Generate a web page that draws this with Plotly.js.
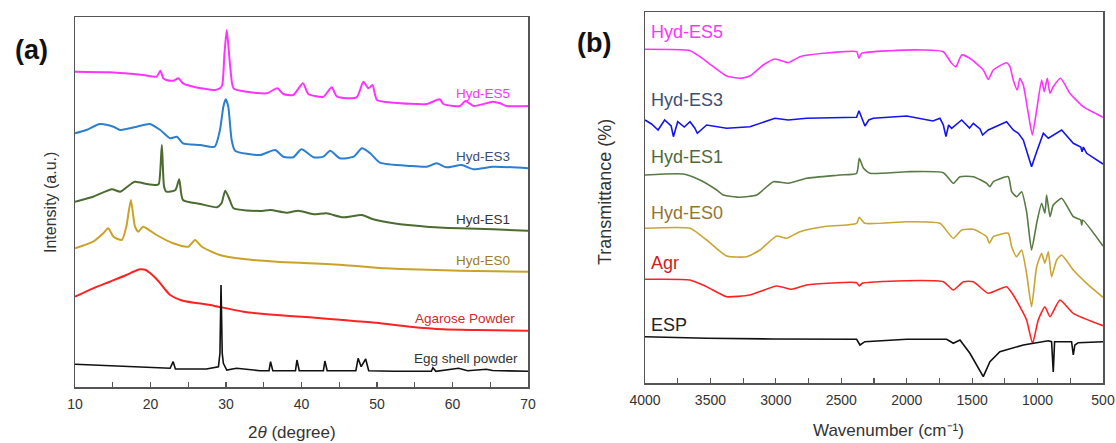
<!DOCTYPE html>
<html>
<head>
<meta charset="utf-8">
<script src="https://cdn.plot.ly/plotly-3.0.1.min.js"></script>
<style>html,body{margin:0;padding:0;background:#fff;}#chart{width:1116px;height:443px;}</style>
</head>
<body>
<div id="chart"></div>
<script>
// ---------- Panel (a): XRD, 2theta (degree) vs intensity (a.u.) ----------
const es5_x = [10,14.6,19.0,20.8,21.3,21.7,22.1,23.0,23.7,24.3,25.7,28.5,29.2,29.5,29.8,30.1,30.4,30.6,31.0,32.7,35.4,36.8,37.6,38.9,40.2,40.9,42.9,44.0,44.7,47.3,48.2,48.85,49.4,50.0,52.2,56.6,58.3,58.8,61.0,61.7,62.8,65.4,66.3,67.2,70];
const es5_y = [315.3,314.7,312,310.3,316.3,308.7,307,306.3,308.7,303.7,300.3,297,298.7,302,333.7,357,333.7,317,298.7,295.3,293.7,298.7,293,292,303.7,293,290.3,299.7,290.3,289.7,305.3,298.7,302,287,284.3,283,287.7,283,281,286,281,285.3,283.7,281,281];

const es3_x = [10,11.5,13.3,15.1,16.0,18.2,19.9,21.3,22.6,23.5,24.3,26.6,28.5,29.2,29.65,29.96,30.3,30.75,31.2,34.5,36.5,37.6,38.9,40.0,41.6,42.9,43.8,45.1,46.9,48.0,49.1,50.4,54.4,56.6,57.9,59.2,61.2,62.8,65.4,70];
const es3_y = [253.7,257,263,260.3,257,260.3,263,257,248.7,250.3,243.7,242,240.3,257,280.3,287.7,280.3,247,236.3,232,237,230.3,229.7,237.7,229.7,230.3,236.3,228.7,230.3,238.7,233.7,224.3,221,220.3,223.7,219.7,222,217.7,220.3,218.7];

const es1_x = [10,12.4,14.9,16.0,17.9,19.5,20.8,21.1,21.5,21.8,22.1,23.3,23.8,24.3,26.6,28.8,29.4,29.9,30.5,31.0,34.5,35.9,38.0,39.6,41.6,43.3,45.5,48.0,49.5,52.2,56.6,61.0,65.4,70];
const es1_y = [185.3,190.3,197.7,195.3,205.3,203,202,203,242,200.3,195.3,197,207.7,187,183,179.7,183.7,196.3,187,178.7,176,177,174.3,176.3,172.7,173.7,169.7,172,167.7,163.7,160.3,158.7,157.7,156.3];

const es0_x = [10,12.4,13.75,14.4,15.1,16.2,16.8,17.4,17.95,18.4,19.0,20.8,23.0,25.0,25.9,26.8,29.2,32.3,36.7,41.1,45.5,49.9,54.4,61.0,70];
const es0_y = [138.7,145.3,153.7,158.7,150.3,147,160.3,187,160.3,155.3,160.3,152,143.7,140.3,147,140.3,132,128,125.3,123.7,122,119.3,117.7,116.3,115.3];

const agar_x = [10,12.4,14.6,16.8,17.8,18.6,19.3,19.9,20.6,21.3,22.0,22.6,24.3,27.9,32.3,36.7,41.1,45.5,49.9,54.4,58.8,63.2,70];
const agar_y = [90.3,98.7,105.3,112,115.5,117.7,117.3,114.3,109.5,103.7,97,92,86.3,82,75.3,72,69.7,67,64.3,60.3,57.7,57,56.3];

const egg_x = [10,16.8,22.6,23.0,23.3,27.4,29.0,29.2,29.34,29.5,29.65,30.1,31.4,34.5,35.7,35.9,36.2,39.2,39.4,39.7,42.9,43.1,43.4,47.2,47.5,47.9,48.5,48.9,52.2,57.2,57.4,57.8,60.8,62.0,64.5,65.3,70];
const egg_y = [22.7,20.3,18.7,25.3,18,18,20.3,33.7,102,33.7,23.7,17,18.7,16.3,16.3,25.3,16.3,16.3,27,16.3,16.3,26,16.3,16.3,28.7,20.3,28,16.3,15.7,15.7,19.3,15.7,18.7,16.3,17.7,16.5,15.7];

const xrdNames  = ['Hyd-ES5','Hyd-ES3','Hyd-ES1','Hyd-ES0','Agarose Powder','Egg shell powder'];
const xrdLabelY = [294,231,168,127,69,29];

// ---------- Panel (b): FTIR, wavenumber (cm-1) vs transmittance (%) ----------
const f5_x = [4000,3656,3580,3478,3376,3274,3198,3096,3007,2905,2816,2637,2383,2365,2345,2128,1873,1720,1657,1624,1580,1517,1415,1377,1338,1237,1211,1186,1155,1135,1109,1071,1040,1007,969,949,926,905,880,824,753,651,500];
const f5_y = [333.7,332.3,326.3,316.3,307,304.7,307,318,324,320.3,326.3,329.7,331.3,324.7,329.7,332.3,333,331.3,319.7,316.3,328,324.7,313,303.7,313,320.3,316.3,303,293,304.7,298,269.7,248,273,303,291.3,304.7,289.7,296.3,304.7,289.7,276.3,265.7];

const f3_x = [4000,3950,3900,3850,3800,3783,3750,3700,3656,3620,3600,3529,3376,3198,3007,2905,2765,2510,2383,2365,2345,2319,2290,2255,2000,1800,1746,1720,1700,1680,1657,1580,1520,1491,1440,1420,1377,1237,1186,1147,1109,1071,1046,1007,956,918,816,727,670,660,650,625,500];
const f3_y = [263,259,253,263,257,246.3,261.3,256,261.3,255,249.7,258,254.7,256.3,264.7,263,264.7,265.7,265.7,272.3,264.7,257,263,264.7,267,262,264.7,258,246.3,258,254.7,263,255,259.7,254,248,253,261.3,253,249.7,243,226.3,216.3,231.3,249.7,244.7,253,239.7,236,231.3,236,229.7,219];

const f1_x = [4000,3707,3580,3452,3401,3274,3147,3019,2905,2765,2510,2383,2362,2330,2280,2000,1720,1644,1593,1491,1389,1364,1338,1224,1198,1160,1122,1084,1046,1007,969,944,931,905,880,816,727,670,663,655,500];
const f1_y = [208,209,203,193,188,185.7,188,201.3,199.7,204.7,208,209.7,224.7,214.7,209.7,211.3,210.3,199.7,206.3,206.3,199.7,196.3,201.3,206.3,191.3,186.3,191.3,171.3,133,159.7,179.7,169.7,188,166.3,178,184.7,166.3,163,158,163,137];

const f0_x = [4000,3656,3529,3376,3223,3121,2994,2917,2816,2637,2383,2362,2320,2000,1746,1644,1580,1491,1389,1369,1338,1224,1198,1160,1122,1084,1046,1007,969,944,918,893,854,816,727,625,500];
const f0_y = [154.7,154.7,143,127,126.3,133,147,144.7,151.3,156.3,159.7,165.7,159.7,161.3,159.7,144.7,153,153.7,146.3,139.7,146.3,149.7,136.3,126.3,133,109.7,76.3,116.3,129.7,119.7,131.3,106.3,123,128,113,99.7,85.7];

const fa_x = [4000,3656,3529,3376,3198,2994,2879,2765,2383,2362,2340,2000,1720,1644,1567,1491,1377,1237,1186,1135,1084,1038,995,944,905,829,727,500];
const fa_y = [103.7,103,96.3,86.3,88,97,93.7,98,100.3,97,99.7,102.3,101.3,93,101.3,101.3,89.7,96.3,88,76.3,63,39.7,63,76.3,66.3,83,69.7,57.3];

const fe_x = [4000,3529,3019,2383,2357,2320,2000,1695,1644,1593,1517,1466,1415,1364,1288,1109,918,893,880,870,740,727,715,689,500];
const fe_y = [46.3,44.7,44,43.7,38,41.3,43.7,43.7,39.7,43,29.7,18,6.3,21.3,31.3,38,42.3,41.3,11,41.3,41.3,28,38,40.3,41.3];

const ftirNames  = ['Hyd-ES5','Hyd-ES3','Hyd-ES1','Hyd-ES0','Agr','ESP'];
const ftirLabelY = [351,283,226,170,120,58];

// ---------- styling ----------
const FONT = 'Arial, "Liberation Sans", sans-serif';
const xrdColors  = ['#ff33ff','#2a7fd0','#4b6b30','#c9a227','#ff2222','#111111'];
const xrdLabelColors = ['#ff33ff','#3c4a78','#333333','#9c7c28','#d02a2a','#333333'];
const ftirColors = ['#ff33ff','#1414f0','#587a44','#c9a534','#ff2222','#111111'];
const ftirLabelColors = ['#ff33ff','#3d4f72','#4d6b3a','#947530','#d02020','#222222'];

const xrdData = [[es5_x,es5_y],[es3_x,es3_y],[es1_x,es1_y],[es0_x,es0_y],[agar_x,agar_y],[egg_x,egg_y]];
const ftirData = [[f5_x,f5_y],[f3_x,f3_y],[f1_x,f1_y],[f0_x,f0_y],[fa_x,fa_y],[fe_x,fe_y]];

const traces = [];
xrdData.forEach((d,i)=>traces.push({x:d[0],y:d[1],type:'scatter',mode:'lines',name:xrdNames[i],
  line:{color:xrdColors[i],width:i===5?1.6:2,shape:i===5?'linear':'spline',smoothing:0.6},xaxis:'x',yaxis:'y',hoverinfo:'skip'}));
ftirData.forEach((d,i)=>traces.push({x:d[0],y:d[1],type:'scatter',mode:'lines',name:ftirNames[i],
  line:{color:ftirColors[i],width:1.6,shape:(i===1||i===5)?'linear':'spline',smoothing:0.5},xaxis:'x2',yaxis:'y2',hoverinfo:'skip'}));

const annotations = [];
xrdNames.forEach((n,i)=>annotations.push({text:n,x:i===4?68.6:(i===5?69:67.9),y:xrdLabelY[i],xref:'x',yref:'y',
  xanchor:'right',yanchor:'middle',showarrow:false,font:{family:FONT,size:13.5,color:xrdLabelColors[i]}}));
ftirNames.forEach((n,i)=>annotations.push({text:n,x:3972,y:ftirLabelY[i],xref:'x2',yref:'y2',
  xanchor:'left',yanchor:'middle',showarrow:false,font:{family:FONT,size:18,color:ftirLabelColors[i]}}));

const W=1116,H=443;
annotations.push({text:'<b>(a)</b>',x:31/W,y:1-50/H,xref:'paper',yref:'paper',xanchor:'center',yanchor:'middle',showarrow:false,font:{family:FONT,size:27,color:'#111'}});
annotations.push({text:'<b>(b)</b>',x:594/W,y:1-43/H,xref:'paper',yref:'paper',xanchor:'center',yanchor:'middle',showarrow:false,font:{family:FONT,size:27,color:'#111'}});
annotations.push({text:'2<i>θ</i> (degree)',x:292/W,y:1-432/H,xref:'paper',yref:'paper',xanchor:'center',yanchor:'middle',showarrow:false,font:{family:FONT,size:17,color:'#333'}});
annotations.push({text:'Wavenumber (cm⁻¹)',x:888/W,y:1-430/H,xref:'paper',yref:'paper',xanchor:'center',yanchor:'middle',showarrow:false,font:{family:FONT,size:17,color:'#333'}});
annotations.push({text:'Intensity (a.u.)',x:50/W,y:1-203/H,xref:'paper',yref:'paper',xanchor:'center',yanchor:'middle',textangle:-90,showarrow:false,font:{family:FONT,size:16,color:'#333'}});
annotations.push({text:'Transmittance (%)',x:605/W,y:1-192/H,xref:'paper',yref:'paper',xanchor:'center',yanchor:'middle',textangle:-90,showarrow:false,font:{family:FONT,size:18,color:'#333'}});

const axBase = {showline:true,mirror:true,linecolor:'#555',linewidth:1.5,showgrid:false,zeroline:false,
  ticks:'inside',ticklen:5,tickwidth:1.2,tickcolor:'#555',
  tickfont:{family:FONT,size:14,color:'#333'},fixedrange:true};
const yBase = {showline:true,mirror:true,linecolor:'#555',linewidth:1.5,showgrid:false,zeroline:false,
  ticks:'',showticklabels:false,fixedrange:true};

const layout = {
  width:W,height:H,margin:{l:0,r:0,t:0,b:0},paper_bgcolor:'#fff',plot_bgcolor:'#fff',showlegend:false,
  xaxis:Object.assign({},axBase,{domain:[75/W,528/W],range:[10,70],tickvals:[10,20,30,40,50,60,70],
    minor:{tickvals:[15,25,35,45,55,65],ticks:'inside',ticklen:5,tickcolor:'#555'},anchor:'y',ticklabelstandoff:4}),
  yaxis:Object.assign({},yBase,{domain:[1-387/H,1-17/H],range:[0,370],anchor:'x'}),
  xaxis2:Object.assign({},axBase,{domain:[645/W,1103/W],range:[4000,500],tickvals:[4000,3500,3000,2500,2000,1500,1000,500],
    minor:{tickvals:[3750,3250,2750,2250,1750,1250,750],ticks:'inside',ticklen:5,tickcolor:'#555'},anchor:'y2',ticklabelstandoff:4}),
  yaxis2:Object.assign({},yBase,{domain:[1-383/H,1-12/H],range:[0,371],anchor:'x2'}),
  annotations:annotations
};
Plotly.newPlot('chart',traces,layout,{displayModeBar:false,staticPlot:true});
</script>
</body>
</html>
